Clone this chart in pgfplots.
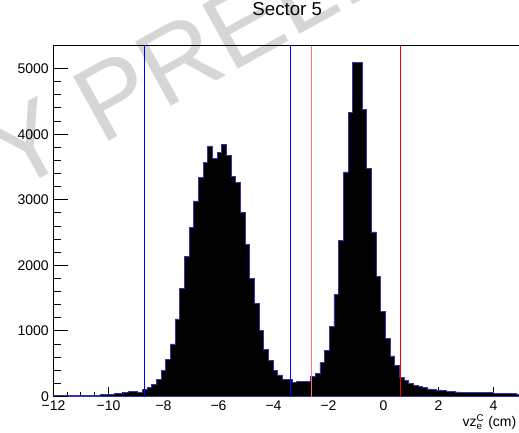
\documentclass[border=0pt]{standalone}
\usepackage{fontspec}
\setmainfont{Liberation Sans}
\usepackage{amsmath}
\usepackage{pgfplots}
\pgfplotsset{compat=1.18}
\usepackage{pgfplotstable}
\definecolor{histline}{rgb}{0.2,0.2,0.65}
\definecolor{wmgray}{rgb}{0.84,0.84,0.84}
\newcommand{\mn}{\mbox{\char"2212\relax}}
\pgfplotstableread{
x y
-12.00 10
-11.83 10
-11.66 12
-11.49 12
-11.32 14
-11.15 15
-10.98 16
-10.81 18
-10.64 20
-10.47 22
-10.30 28
-10.13 30
-9.96 34
-9.79 42
-9.62 50
-9.45 58
-9.28 72
-9.11 74
-8.94 68
-8.77 110
-8.60 140
-8.43 185
-8.26 255
-8.09 404
-7.92 567
-7.75 801
-7.58 1182
-7.41 1645
-7.24 2133
-7.07 2580
-6.90 2982
-6.73 3338
-6.56 3572
-6.39 3821
-6.22 3633
-6.05 3725
-5.88 3841
-5.71 3679
-5.54 3353
-5.37 3262
-5.20 2810
-5.03 2321
-4.86 1803
-4.69 1421
-4.52 1010
-4.35 724
-4.18 547
-4.01 404
-3.84 328
-3.67 262
-3.50 262
-3.33 221
-3.16 236
-2.99 236
-2.82 236
-2.65 308
-2.48 354
-2.31 521
-2.14 699
-1.97 1065
-1.80 1558
-1.63 2382
-1.46 3424
-1.29 4330
-1.12 5092
-0.95 5092
-0.78 4381
-0.61 3475
-0.44 2509
-0.27 1828
-0.10 1294
0.07 880
0.24 618
0.41 470
0.58 290
0.75 245
0.92 200
1.09 165
1.26 155
1.43 135
1.60 115
1.77 108
1.94 100
2.11 90
2.28 80
2.45 74
2.62 70
2.79 66
2.96 64
3.13 62
3.30 60
3.47 58
3.64 56
3.81 55
3.98 52
4.15 50
4.32 48
4.49 46
4.66 42
4.83 35
5.00 35
}\histdata
\begin{document}
\begin{tikzpicture}
\node[rotate=29, anchor=base west, text=wmgray, font=\fontsize{80}{96}\selectfont, inner sep=0pt] at (-30.5pt,151.9pt) {Y PRELIMINARY};
\begin{axis}[
  scale only axis, width=350.625pt, height=262.875pt,
  xmin=-12, xmax=5, ymin=0, ymax=5345,
  axis line style={line width=0.75pt, black},
  tick pos=left, tick align=inside,
  xtick={-12,-10,...,4},
  xticklabels={{\mn 12},{\mn 10},{\mn 8},{\mn 6},{\mn 4},{\mn 2},0,2,4},
  minor x tick num=3,
  major tick length=7.5pt, minor tick length=3.5pt,
  ytick={0,1000,2000,3000,4000,5000},
  yticklabels={0,1000,2000,3000,4000,5000},
  ytick style={draw=none},
  tick style={line width=0.75pt, black},
  ticklabel style={font=\fontsize{10.5}{12}\selectfont},
  title={Sector 5},
  title style={at={(0.5,1)}, anchor=base, yshift=16.5pt, font=\fontsize{14}{17}\selectfont},
  xlabel={vz$^{\text{C}}_{\text{e}}$ (cm)},
  xlabel style={at={(1,0)}, anchor=base east, yshift=-22.4pt, font=\fontsize{10.5}{12}\selectfont},
]
\addplot[const plot, fill=black, draw=histline, line width=0.6pt] table[x=x, y=y] {\histdata} \closedcycle;
\addplot[blue, line width=0.75pt] coordinates {(-8.697,0) (-8.697,5345)};
\addplot[blue, line width=0.75pt] coordinates {(-3.376,0) (-3.376,5345)};
\addplot[red!55, line width=0.75pt] coordinates {(-2.612,0) (-2.612,5345)};
\addplot[red, line width=0.75pt] coordinates {(0.612,0) (0.612,5345)};
\end{axis}
\begin{axis}[
  scale only axis, width=350.625pt, height=262.875pt,
  xmin=-12, xmax=5, ymin=0, ymax=5345,
  axis line style={draw=none},
  tick pos=left, tick align=inside,
  xtick=\empty,
  ytick={0,1000,2000,3000,4000,5000}, yticklabels={},
  minor y tick num=4,
  major tick length=10.5pt, minor tick length=5.25pt,
  tick style={line width=0.75pt, black},
]
\end{axis}
\pgfresetboundingbox
\path[use as bounding box] (-40.125pt,-27.375pt) rectangle ++(389.25pt,324.75pt);
\end{tikzpicture}
\end{document}
